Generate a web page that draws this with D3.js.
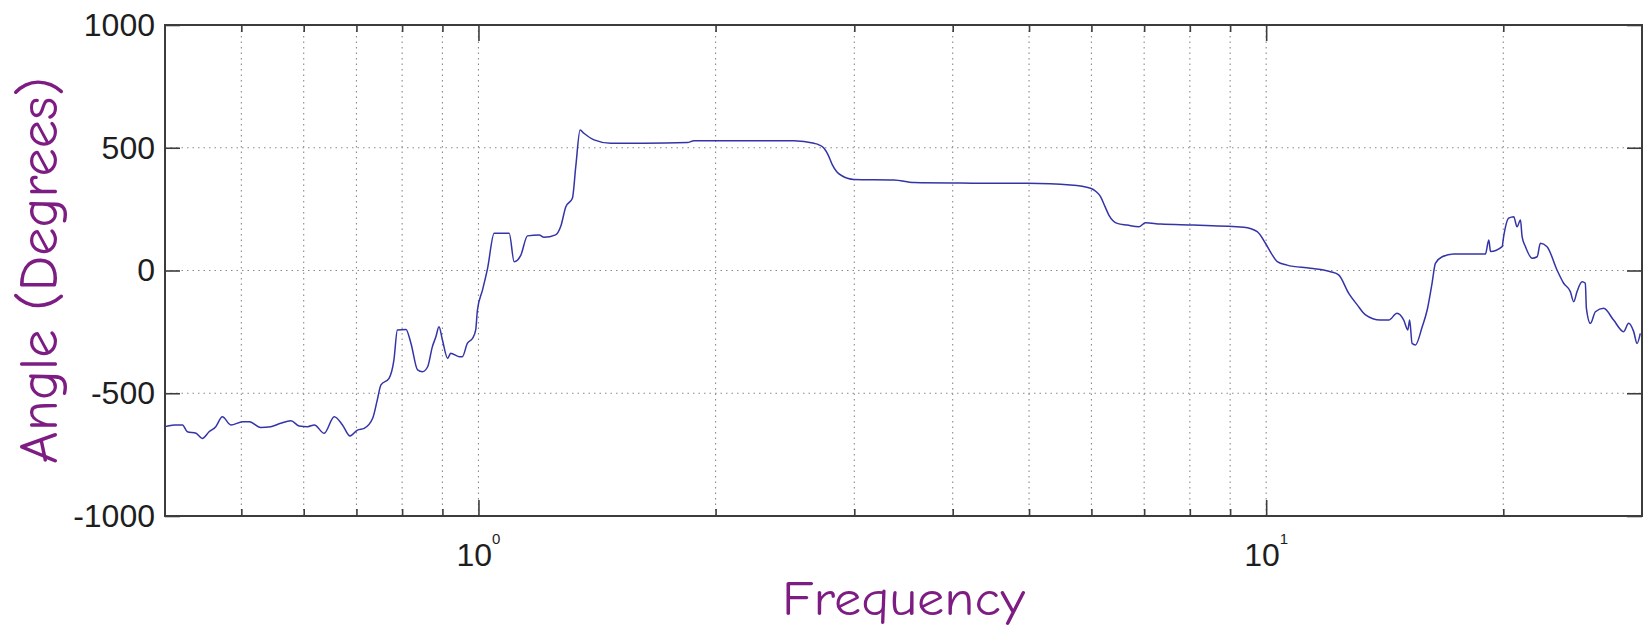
<!DOCTYPE html>
<html>
<head>
<meta charset="utf-8">
<script src="https://cdn.jsdelivr.net/npm/d3@7"></script>
<style>
  html, body { margin: 0; padding: 0; background: #fff; }
  svg { display: block; }
</style>
</head>
<body>
<svg id="chart" width="1645" height="634"></svg>
<script>
// Phase response: frequency samples and the matching angle in degrees
const frequency = [
  0.4, 0.411, 0.421, 0.427, 0.438, 0.446, 0.455, 0.464, 0.473, 0.485,
  0.502, 0.512, 0.529, 0.545, 0.561, 0.578, 0.592, 0.607, 0.619, 0.637,
  0.656, 0.672, 0.687, 0.702, 0.716, 0.734, 0.744, 0.752, 0.770, 0.781,
  0.789, 0.809, 0.821, 0.837, 0.849, 0.862, 0.874, 0.883, 0.891, 0.900,
  0.914, 0.922, 0.945, 0.954, 0.968, 0.983, 0.992, 0.997, 1.012, 1.027,
  1.047, 1.094, 1.110, 1.132, 1.154, 1.194, 1.211, 1.253, 1.272, 1.291,
  1.316, 1.329, 1.346, 1.361, 1.402, 1.472, 1.623, 1.842, 1.878, 2.070,
  2.515, 2.667, 2.705, 2.746, 2.780, 2.814, 2.850, 2.897, 2.940, 2.997,
  3.369, 3.571, 4.093, 4.974, 5.644, 5.984, 6.080, 6.162, 6.240, 6.314,
  6.470, 6.662, 6.892, 7.028, 7.344, 8.095, 9.367, 9.741, 9.979, 10.15,
  10.33, 10.63, 11.38, 12.07, 12.36, 12.73, 13.05, 13.37, 13.96, 14.31,
  14.66, 14.95, 15.13, 15.21, 15.32, 15.47, 15.78, 16.01, 16.24, 16.40,
  16.73, 17.30, 18.98, 19.17, 19.27, 19.93, 20.02, 20.32, 20.62, 20.82,
  21.03, 21.13, 21.34, 21.76, 22.08, 22.29, 22.73, 23.40, 23.86, 24.33,
  24.57, 24.81, 25.18, 25.42, 25.50, 25.80, 26.18, 26.82, 27.61, 28.43,
  28.85, 29.28, 29.57, 29.85
];
const angle = [
  -636, -629, -629, -657, -663, -684, -657, -636, -596, -629,
  -616, -616, -639, -636, -622, -612, -633, -636, -629, -663,
  -596, -629, -674, -650, -643, -602, -527, -466, -439, -365,
  -242, -240, -297, -405, -412, -392, -310, -270, -229, -283,
  -358, -337, -351, -351, -297, -276, -242, -161, -79, 9,
  152, 152, 36, 63, 141, 145, 135, 145, 180, 260,
  294, 423, 572, 559, 532, 518, 518, 521, 529, 529,
  529, 518, 512, 498, 470, 430, 402, 385, 376, 371,
  369, 358, 356, 355, 348, 335, 322, 301, 262, 226,
  192, 185, 178, 195, 189, 185, 176, 158, 111, 70,
  36, 22, 9, -5, -18, -93, -140, -181, -202, -202,
  -174, -202, -242, -202, -297, -303, -229, -161, -52, 29,
  56, 67, 67, 124, 77, 97, 138, 213, 219, 178,
  206, 138, 97, 50, 56, 111, 97, 2, -52, -86,
  -127, -86, -46, -52, -154, -215, -168, -154, -202, -249,
  -215, -249, -297, -256
];

// Axis ticks and grid positions
const yTicks = [-1000, -500, 0, 500, 1000];
const yGrid = [-500, 0, 500];
const xMajorTicks = [1, 10];
const xMajorExponents = ["0", "1"];
const xMinorTicks = [0.5, 0.6, 0.7, 0.8, 0.9, 2, 3, 4, 5, 6, 7, 8, 9, 20];

const xLabel = "Frequency";
const yLabel = "Angle (Degrees)";

const plot = { left: 165, right: 1642, top: 25, bottom: 516 };

const svg = d3.select("#chart");

const x = d3.scaleLog().domain([0.4, 30]).range([plot.left, plot.right]);
const y = d3.scaleLinear().domain([-1000, 1000]).range([plot.bottom, plot.top]);

const axisColor = "#3c3c3c";
const tickFont = "'Liberation Sans', Arial, Helvetica, sans-serif";

// Dotted grid
const grid = svg.append("g").attr("stroke", "#8a8a8a").attr("stroke-width", 1.1)
  .attr("stroke-dasharray", "1.5,4");
grid.selectAll("line.v")
  .data(xMinorTicks.concat(xMajorTicks))
  .join("line")
  .attr("x1", d => x(d)).attr("x2", d => x(d))
  .attr("y1", plot.top).attr("y2", plot.bottom);
grid.selectAll("line.h")
  .data(yGrid)
  .join("line")
  .attr("x1", plot.left).attr("x2", plot.right)
  .attr("y1", d => y(d)).attr("y2", d => y(d));

// Phase curve
const line = d3.line()
  .x((d, i) => x(frequency[i]))
  .y(d => y(d))
  .curve(d3.curveMonotoneX);
svg.append("path")
  .datum(angle)
  .attr("fill", "none")
  .attr("stroke", "#3434a8")
  .attr("stroke-width", 1.5)
  .attr("stroke-linejoin", "round")
  .attr("d", line);

// Axes: ticks point inward on all four sides
function styleAxis(g) {
  g.select(".domain").remove();
  g.selectAll(".tick line").attr("stroke", axisColor).attr("stroke-width", 1.6);
}

svg.append("g")
  .attr("transform", `translate(${plot.left},0)`)
  .call(d3.axisLeft(y).tickValues(yTicks).tickSizeInner(-15).tickSizeOuter(0)
    .tickPadding(10).tickFormat(d => String(d)))
  .call(styleAxis)
  .call(g => g.selectAll(".tick text")
    .attr("fill", "#1e1e1e")
    .style("font-family", tickFont)
    .style("font-size", "32px"));

svg.append("g")
  .attr("transform", `translate(${plot.right},0)`)
  .call(d3.axisRight(y).tickValues(yTicks).tickSizeInner(-15).tickSizeOuter(0).tickFormat(""))
  .call(styleAxis);

[[d3.axisBottom, plot.bottom], [d3.axisTop, plot.top]].forEach(([axisFn, pos]) => {
  svg.append("g")
    .attr("transform", `translate(0,${pos})`)
    .call(axisFn(x).tickValues(xMajorTicks).tickSizeInner(-16).tickSizeOuter(0).tickFormat(""))
    .call(styleAxis);
  svg.append("g")
    .attr("transform", `translate(0,${pos})`)
    .call(axisFn(x).tickValues(xMinorTicks).tickSizeInner(-7).tickSizeOuter(0).tickFormat(""))
    .call(styleAxis);
});

// Powers-of-ten labels under the major ticks
const xl = svg.append("g")
  .style("font-family", tickFont)
  .attr("fill", "#1e1e1e");
xMajorTicks.forEach((t, i) => {
  const txt = xl.append("text")
    .attr("x", x(t))
    .attr("y", 566)
    .attr("text-anchor", "middle");
  txt.append("tspan").style("font-size", "32px").text("10");
  txt.append("tspan").attr("dy", -22).style("font-size", "15px").text(xMajorExponents[i]);
});

// Axes box
svg.append("rect")
  .attr("x", plot.left).attr("y", plot.top)
  .attr("width", plot.right - plot.left).attr("height", plot.bottom - plot.top)
  .attr("fill", "none")
  .attr("stroke", axisColor)
  .attr("stroke-width", 2);

// Axis titles
const titleFont = "'Comic Sans MS', 'Comic Neue', 'Open Sans', sans-serif";
svg.append("text")
  .attr("x", (plot.left + plot.right) / 2)
  .attr("y", 615)
  .attr("text-anchor", "middle")
  .attr("fill", "#7d1c82")
  .attr("textLength", 243)
  .attr("lengthAdjust", "spacingAndGlyphs")
  .style("font-family", titleFont)
  .style("font-size", "49px")
  .text(xLabel);

svg.append("text")
  .attr("transform", `translate(57,${(plot.top + plot.bottom) / 2}) rotate(-90)`)
  .attr("text-anchor", "middle")
  .attr("fill", "#7d1c82")
  .attr("textLength", 387)
  .attr("lengthAdjust", "spacingAndGlyphs")
  .style("font-family", titleFont)
  .style("font-size", "54px")
  .text(yLabel);
</script>
</body>
</html>
